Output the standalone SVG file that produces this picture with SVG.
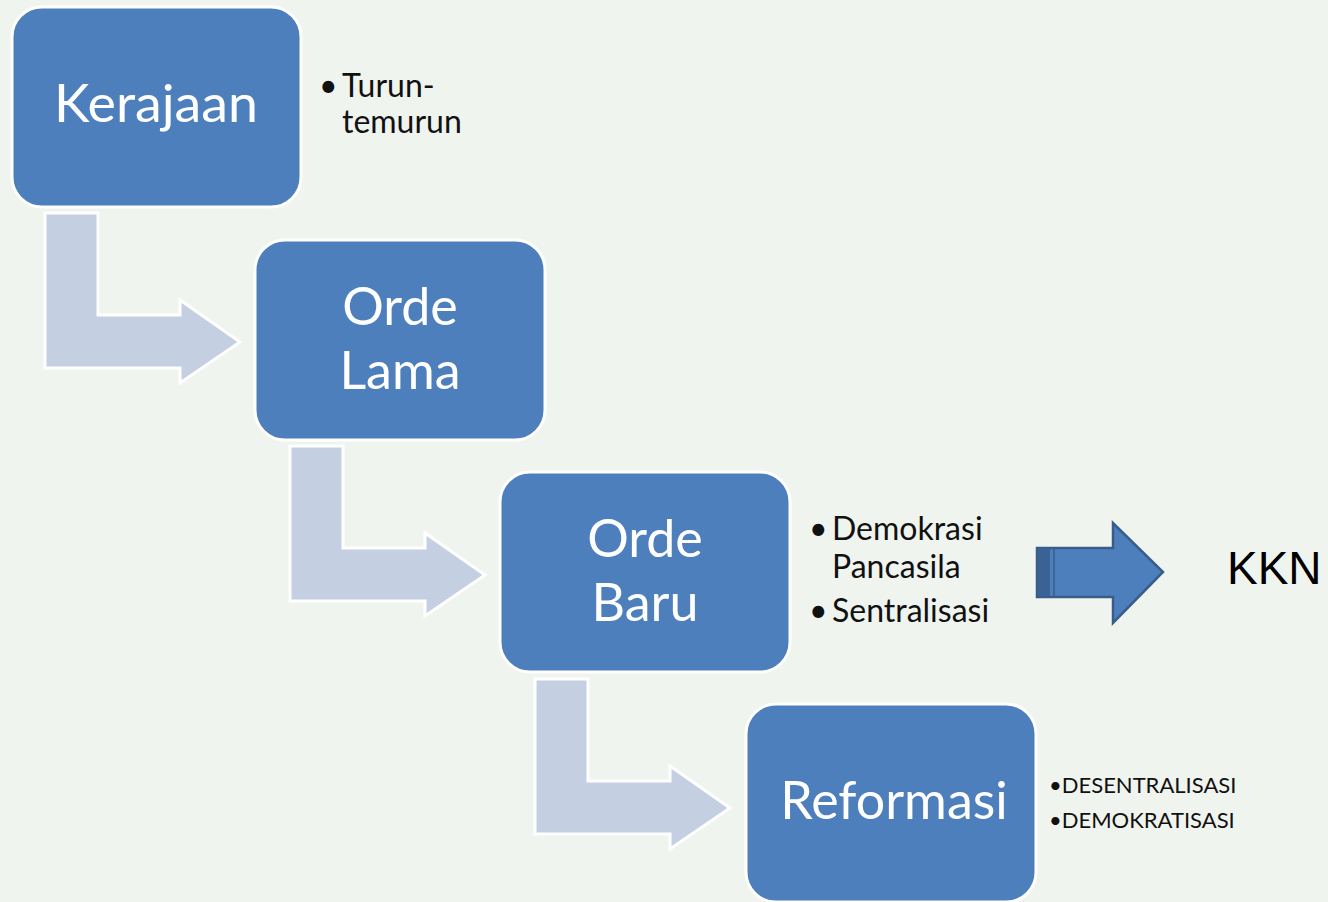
<svg xmlns="http://www.w3.org/2000/svg" width="1328" height="902" viewBox="0 0 1328 902">
<style>
.box{fill:#4d7fbc;stroke:#ffffff;stroke-width:3}
.bent{fill:#c5cfe2;stroke:#ffffff;stroke-width:3;stroke-linejoin:miter}
.lbl{font-family:Lato,"Liberation Sans",sans-serif;font-size:52px;fill:#ffffff;text-anchor:middle}
.side{font-family:Lato,"Liberation Sans",sans-serif;font-size:32px;fill:#111111}
.small{font-family:Lato,"Liberation Sans",sans-serif;font-size:22px;fill:#111111}
.kkn{font-family:"Liberation Sans",Arial,sans-serif;font-size:46px;fill:#000000}
</style>
<rect width="1328" height="902" fill="#f0f4ef"/>
<g id="connectors">
  <path class="bent" d="M45,213 H98 V315 H180 V300 L240,342 L180,383 V368 H45 Z"/>
  <path class="bent" d="M290,446 H343 V548 H425 V533 L485,575 L425,616 V601 H290 Z"/>
  <path class="bent" d="M535,679 H588 V781 H670 V766 L730,808 L670,849 V834 H535 Z"/>
  <g id="kkn-arrow">
    <path d="M1037,548 H1113 V523 L1163,572 L1113,623 V597 H1037 Z" fill="#4d7fbc" stroke="#385d8a" stroke-width="2.5"/>
    <rect x="1038" y="549" width="12" height="47" fill="#3a6294"/>
    <line x1="1054" y1="549" x2="1054" y2="596" stroke="#385d8a" stroke-width="1.5"/>
  </g>
</g>
<g id="node-kerajaan">
  <rect class="box" x="12" y="7" width="289" height="200" rx="30"/>
  <text class="lbl" x="156" y="122" textLength="204" lengthAdjust="spacingAndGlyphs">Kerajaan</text>
</g>
<g id="node-orde-lama">
  <rect class="box" x="255" y="240" width="290" height="200" rx="30"/>
  <text class="lbl" x="400" y="325">Orde</text>
  <text class="lbl" x="400" y="389">Lama</text>
</g>
<g id="node-orde-baru">
  <rect class="box" x="500" y="472" width="290" height="200" rx="30"/>
  <text class="lbl" x="645" y="557">Orde</text>
  <text class="lbl" x="645" y="621">Baru</text>
</g>
<g id="node-reformasi">
  <rect class="box" x="746" y="704" width="290" height="198" rx="30"/>
  <text class="lbl" x="894" y="819">Reformasi</text>
</g>
<g id="note-kerajaan">
  <text class="side" x="319" y="97">•</text>
  <text class="side" x="342" y="97">Turun-</text>
  <text class="side" x="342" y="133">temurun</text>
</g>
<g id="note-orde-baru">
  <text class="side" x="809" y="540">•</text>
  <text class="side" x="832" y="540">Demokrasi</text>
  <text class="side" x="832" y="578">Pancasila</text>
  <text class="side" x="809" y="622">•</text>
  <text class="side" x="832" y="622">Sentralisasi</text>
</g>
<g id="note-reformasi">
  <text class="small" x="1049" y="793">•DESENTRALISASI</text>
  <text class="small" x="1049" y="828">•DEMOKRATISASI</text>
</g>
<g id="node-kkn">
  <text class="kkn" x="1227" y="584">KKN</text>
</g>
</svg>
